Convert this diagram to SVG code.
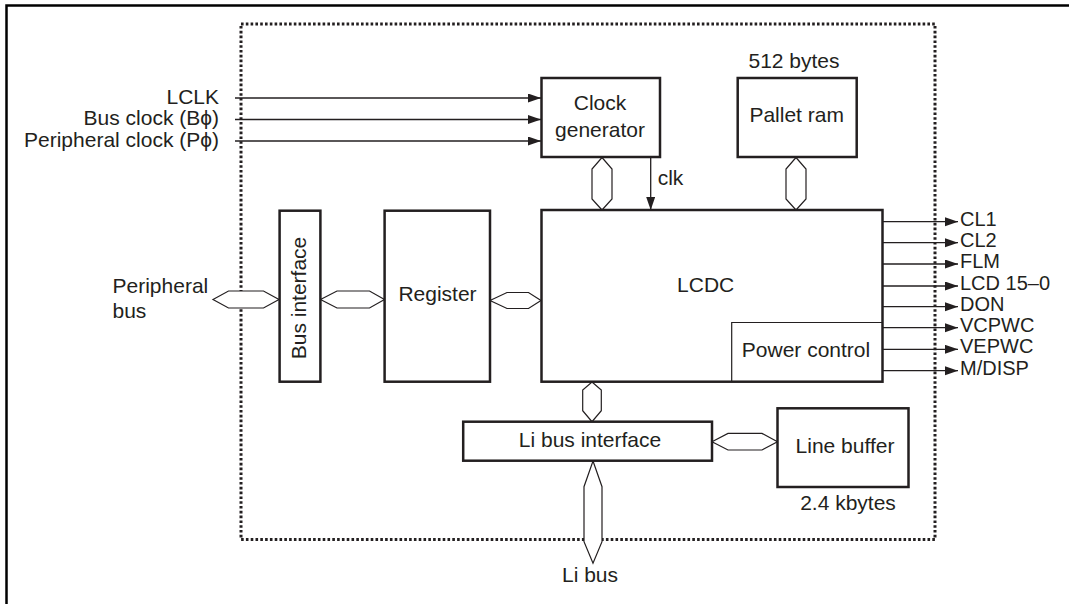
<svg xmlns="http://www.w3.org/2000/svg" width="1069" height="604" viewBox="0 0 1069 604">
<defs>
<style>
text{font-family:"Liberation Sans",Arial,sans-serif;font-size:21px;fill:#231f20}
.m{text-anchor:middle}
.e{text-anchor:end}
.o{font-size:20px}
.box{fill:#fff;stroke:#231f20;stroke-width:2.5}
.thin{fill:none;stroke:#231f20;stroke-width:1.2}
.hex{fill:#fff;stroke:#231f20;stroke-width:1.2;stroke-linejoin:miter}
.wire{fill:none;stroke:#231f20;stroke-width:1.3}
</style>
<marker id="ah" markerUnits="userSpaceOnUse" markerWidth="13" markerHeight="10" refX="13" refY="4.5" orient="auto">
<path d="M0,0 L13,4.5 L0,9 z" fill="#231f20"/>
</marker>
</defs>
<rect width="1069" height="604" fill="#fff"/>
<g id="frame">
<path d="M6.5,604 V5.5 H1069" fill="none" stroke="#000" stroke-width="2.5"/>
<rect x="241" y="24" width="694" height="515.5" fill="none" stroke="#231f20" stroke-width="3" stroke-dasharray="2.6 2.2"/>
</g>
<g id="connectors">
<line class="wire" x1="235" y1="98" x2="541" y2="98" marker-end="url(#ah)"/>
<line class="wire" x1="235" y1="119.5" x2="541" y2="119.5" marker-end="url(#ah)"/>
<line class="wire" x1="235" y1="141" x2="541" y2="141" marker-end="url(#ah)"/>
<line class="wire" x1="650.7" y1="157" x2="650.7" y2="210" marker-end="url(#ah)"/>
<line class="wire" x1="882" y1="221.7" x2="958" y2="221.7" marker-end="url(#ah)"/>
<line class="wire" x1="882" y1="242.7" x2="958" y2="242.7" marker-end="url(#ah)"/>
<line class="wire" x1="882" y1="264" x2="958" y2="264" marker-end="url(#ah)"/>
<line class="wire" x1="882" y1="286" x2="958" y2="286" marker-end="url(#ah)"/>
<line class="wire" x1="882" y1="306.7" x2="958" y2="306.7" marker-end="url(#ah)"/>
<line class="wire" x1="882" y1="327.7" x2="958" y2="327.7" marker-end="url(#ah)"/>
<line class="wire" x1="882" y1="349.3" x2="958" y2="349.3" marker-end="url(#ah)"/>
<line class="wire" x1="882" y1="370.7" x2="958" y2="370.7" marker-end="url(#ah)"/>
<polygon class="hex" points="602,157.5 612,169 612,199 602,210 592,199 592,169"/>
<polygon class="hex" points="796,157.5 806,169 806,199 796,210 786,199 786,169"/>
<polygon class="hex" points="213,299.5 228.5,291 263.5,291 279,299.5 263.5,308 228.5,308"/>
<polygon class="hex" points="320.5,299.5 337,291 369.5,291 384.5,299.5 369.5,308 337,308"/>
<polygon class="hex" points="490,300.5 507,292.5 528.5,292.5 541,300.5 528.5,308.5 507,308.5"/>
<polygon class="hex" points="592,382 601.3,390 601.3,410.7 592,421.7 582.7,410.7 582.7,390"/>
<polygon class="hex" points="593,461 602,486.7 602,541.7 593,563.3 584,541.7 584,486.7"/>
<polygon class="hex" points="712,441.7 728,433.4 762,433.4 777.5,441.7 762,450 728,450"/>
</g>
<g id="clock-generator">
<rect class="box" x="541.5" y="78" width="118.5" height="79"/>
<text class="m" x="600" y="110">Clock</text>
<text class="m" x="600" y="136.7">generator</text>
</g>
<g id="pallet-ram">
<rect class="box" x="737.7" y="78" width="119" height="79"/>
<text class="m" x="796.7" y="121.7">Pallet ram</text>
<text class="m" x="794" y="68">512 bytes</text>
</g>
<g id="lcdc">
<rect class="box" x="541.5" y="210" width="341" height="171.7"/>
<text class="m" x="705.7" y="291.7">LCDC</text>
</g>
<g id="power-control">
<polyline class="thin" points="731.7,381.7 731.7,322.5 882.5,322.5"/>
<text class="m" x="806" y="356.7">Power control</text>
</g>
<g id="bus-interface">
<rect class="box" x="279.6" y="210.7" width="40.8" height="171"/>
<text class="m" transform="translate(305.5,298) rotate(-90)">Bus interface</text>
</g>
<g id="register">
<rect class="box" x="384.6" y="210.7" width="105.4" height="171"/>
<text class="m" x="437.5" y="300.7">Register</text>
</g>
<g id="li-bus-interface">
<rect class="box" x="463.2" y="421.7" width="248.8" height="39"/>
<text class="m" x="590" y="447.3">Li bus interface</text>
</g>
<g id="line-buffer">
<rect class="box" x="777.5" y="408.3" width="131" height="78.7"/>
<text class="m" x="845" y="452.7">Line buffer</text>
<text class="m" x="848" y="510">2.4 kbytes</text>
</g>
<g id="labels">
<text class="e" x="219" y="104">LCLK</text>
<text class="e" x="219" y="125">Bus clock (Bϕ)</text>
<text class="e" x="219" y="146.7">Peripheral clock (Pϕ)</text>
<text x="112.5" y="293.3">Peripheral</text>
<text x="112.5" y="318.3">bus</text>
<text x="657.7" y="185">clk</text>
<text x="590" y="581.7" class="m">Li bus</text>
<text class="o" x="960" y="225.7">CL1</text>
<text class="o" x="960" y="246.7">CL2</text>
<text class="o" x="960" y="268.3">FLM</text>
<text class="o" x="960" y="289.5">LCD 15–0</text>
<text class="o" x="960" y="310.7">DON</text>
<text class="o" x="960" y="331.7">VCPWC</text>
<text class="o" x="960" y="353">VEPWC</text>
<text class="o" x="960" y="374.5">M/DISP</text>
</g>
</svg>
